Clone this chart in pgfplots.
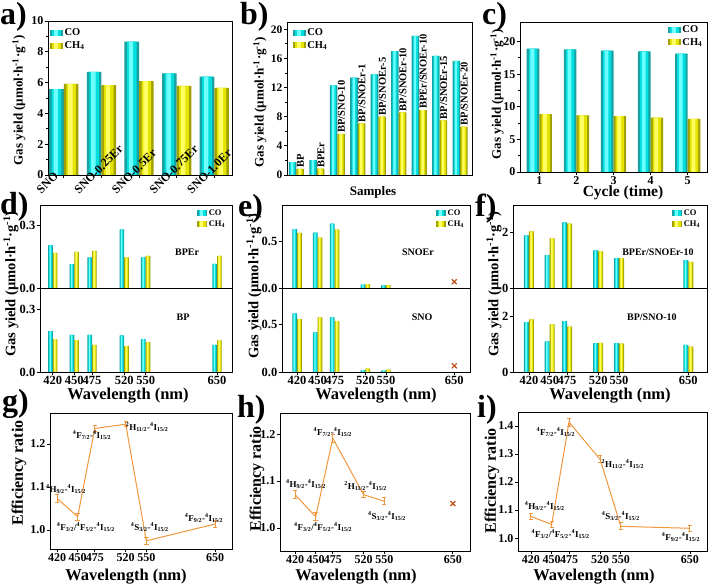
\documentclass[border=0pt]{standalone}
\usepackage{pgfplots}
\pgfplotsset{compat=1.18}
\usepackage{fontspec}
\setmainfont{Liberation Serif}
\definecolor{cyd}{RGB}{25,160,160}
\definecolor{cym}{RGB}{0,222,222}
\definecolor{cyb}{RGB}{110,255,255}
\definecolor{yed}{RGB}{160,160,0}
\definecolor{yem}{RGB}{228,228,0}
\definecolor{yeb}{RGB}{255,255,100}
\definecolor{orl}{RGB}{240,150,60}
\definecolor{xmk}{RGB}{190,80,20}
\newcommand{\fs}[1]{\fontsize{#1}{#1}\selectfont\bfseries}
\newcommand{\tr}[3]{\textsuperscript{#1}#2\textsubscript{#3}-\textsuperscript{4}I\textsubscript{15/2}}
\def\legw{13}
% #1 dark #2 mid #3 bright #4 width #5 shift #6 coordinates
\newcommand{\barset}[6]{%
  \addplot[ybar, bar width=#4, bar shift=#5, fill=#1, draw=none,
    legend image code/.code={\fill[#1] (0pt,-3pt) rectangle (\legw pt,3pt);
      \fill[#2] (0.17*\legw pt,-3pt) rectangle (0.83*\legw pt,3pt);
      \fill[#3] (0.3*\legw pt,-3pt) rectangle (0.6*\legw pt,3pt);}] coordinates {#6};
  \addplot[ybar, bar width={0.66*#4}, bar shift=#5, fill=#2, draw=none, forget plot] coordinates {#6};
  \addplot[ybar, bar width={0.3*#4}, bar shift={#5-0.05*#4}, fill=#3, draw=none, forget plot] coordinates {#6};
}
\pgfplotsset{
  base/.style={scale only axis, anchor=south west, clip=false,
    axis line style={line width=0.9pt}, every tick/.style={black, line width=0.8pt},
    tick align=outside, major tick length=3pt, minor tick length=2pt,
    xtick pos=bottom, ytick pos=left,
    xticklabel style={inner sep=1pt}, yticklabel style={inner sep=1.5pt},
    /pgf/number format/assume math mode=true},
  leg/.style={legend style={draw=none, fill=none, at={#1}, anchor=north west, inner sep=0pt, row sep=1pt,
     nodes={inner sep=1.5pt}}, legend cell align=left},
  effl/.style={orl, line width=1pt, mark=none, error bars/.cd, y dir=both, y explicit,
     error bar style={orl, line width=1pt}, error mark options={orl, rotate=90, mark size=2.2pt, line width=1pt}},
}
\begin{document}
\begin{tikzpicture}[x=1pt,y=1pt]
\path[use as bounding box] (0,0) rectangle (709,585);

% ================= a
\begin{axis}[base, at={(48pt,410pt)}, width=184pt, height=154pt,
  xmin=-0.42, xmax=4.47, ymin=0, ymax=10, ytick={0,2,...,10}, minor y tick num=1,
  xtick={0,...,4}, xticklabel={\mbox{}}, ticklabel style={font=\fs{12}},
  leg={(0.01,0.96)}, legend style={font=\fs{10.5}}]
\barset{cyd}{cym}{cyb}{0.39}{-0.195}{(0,5.58) (1,6.69) (2,8.66) (3,6.6) (4,6.39)}
\barset{yed}{yem}{yeb}{0.39}{0.195}{(0,5.92) (1,5.84) (2,6.1) (3,5.78) (4,5.65)}
\legend{CO, CH\textsubscript{4}}
\node[rotate=45, anchor=base west, font=\fs{12}] at (axis cs:-0.66,-1.43) {SNO};
\node[rotate=45, anchor=base west, font=\fs{12}] at (axis cs:0.34,-1.43) {SNO-0.25Er};
\node[rotate=45, anchor=base west, font=\fs{12}] at (axis cs:1.34,-1.43) {SNO-0.5Er};
\node[rotate=45, anchor=base west, font=\fs{12}] at (axis cs:2.34,-1.43) {SNO-0.75Er};
\node[rotate=45, anchor=base west, font=\fs{12}] at (axis cs:3.34,-1.43) {SNO-1.0Er};
\end{axis}
\node[rotate=90, font=\fs{13}] at (19,485) {Gas yield (µmol·h\textsuperscript{-1}·g\textsuperscript{-1})};
\node[anchor=base west, font=\fs{32}, inner sep=0pt] at (0,560) {a)};

% ================= b
\begin{axis}[base, at={(287pt,410pt)}, width=185pt, height=153pt,
  xmin=-0.46, xmax=8.58, ymin=0, ymax=21, ytick={0,4,...,20}, minor y tick num=1,
  xtick=\empty, ticklabel style={font=\fs{11.5}},
  leg={(0.03,0.967)}, legend style={font=\fs{10.5}}]
\barset{cyd}{cym}{cyb}{0.37}{-0.185}{(0,1.75) (1,2.05) (2,12.3) (3,13.35) (4,13.8) (5,17.0) (6,19.1) (7,16.35) (8,15.65)}
\barset{yed}{yem}{yeb}{0.37}{0.185}{(0,0.85) (1,0.87) (2,5.65) (3,7.1) (4,8.0) (5,8.6) (6,8.9) (7,7.5) (8,6.65)}
\legend{CO, CH\textsubscript{4}}
\node[rotate=90, anchor=west, font=\fs{10.5}, inner sep=1pt] at (axis cs:0.2,0.85) {BP};
\node[rotate=90, anchor=west, font=\fs{10.5}, inner sep=1pt] at (axis cs:1.2,0.87) {BPEr};
\node[rotate=90, anchor=west, font=\fs{10.5}, inner sep=1pt] at (axis cs:2.2,5.65) {BP/SNO-10};
\node[rotate=90, anchor=west, font=\fs{10.5}, inner sep=1pt] at (axis cs:3.2,7.1) {BP/SNOEr-1};
\node[rotate=90, anchor=west, font=\fs{10.5}, inner sep=1pt] at (axis cs:4.2,8.0) {BP/SNOEr-5};
\node[rotate=90, anchor=west, font=\fs{10.5}, inner sep=1pt] at (axis cs:5.2,8.6) {BP/SNOEr-10};
\node[rotate=90, anchor=west, font=\fs{10.5}, inner sep=1pt] at (axis cs:6.2,8.9) {BPEr/SNOEr-10};
\node[rotate=90, anchor=west, font=\fs{10.5}, inner sep=1pt] at (axis cs:7.2,7.5) {BP/SNOEr-15};
\node[rotate=90, anchor=west, font=\fs{10.5}, inner sep=1pt] at (axis cs:8.2,6.65) {BP/SNOEr-20};
\end{axis}
\node[rotate=90, font=\fs{13}] at (260,483) {Gas yield (µmol·h\textsuperscript{-1}·g\textsuperscript{-1})};
\node[font=\fs{13}] at (373,393) {Samples};
\node[anchor=base west, font=\fs{32}, inner sep=0pt] at (240,560) {b)};

% ================= c
\begin{axis}[base, at={(520pt,413pt)}, width=187pt, height=150pt,
  xmin=0.48, xmax=5.52, ymin=0, ymax=23, ytick={0,5,...,20}, minor y tick num=1,
  xtick={1,...,5}, ticklabel style={font=\fs{12}},
  leg={(0.79,0.987)}, legend style={font=\fs{10.5}}]
\barset{cyd}{cym}{cyb}{0.34}{-0.17}{(1,18.9) (2,18.8) (3,18.6) (4,18.5) (5,18.15)}
\barset{yed}{yem}{yeb}{0.34}{0.17}{(1,8.86) (2,8.7) (3,8.56) (4,8.35) (5,8.15)}
\legend{CO, CH\textsubscript{4}}
\end{axis}
\node[rotate=90, font=\fs{13}] at (497,491) {Gas yield (µmol·h\textsuperscript{-1}·g\textsuperscript{-1})};
\node[font=\fs{15.5}] at (623,392) {Cycle (time)};
\node[anchor=base west, font=\fs{32}, inner sep=0pt] at (482,560) {c)};

\def\legw{10}
% ================= d
\begin{axis}[base, at={(40pt,297pt)}, width=192pt, height=83pt,
  xmin=402, xmax=671, ymin=0, ymax=0.4, ytick={0,0.3}, yticklabels={0.0,0.3},
  xtick=\empty, ticklabel style={font=\fs{12.5}},
  leg={(0.818,0.964)}, legend style={font=\fs{8.5}}]
\barset{cyd}{cym}{cyb}{6.5}{-3.25}{(420,0.207) (450,0.115) (475,0.148) (520,0.282) (550,0.147) (650,0.116)}
\barset{yed}{yem}{yeb}{6.5}{3.25}{(420,0.169) (450,0.174) (475,0.179) (520,0.148) (550,0.155) (650,0.155)}
\legend{CO, CH\textsubscript{4}}
\node[font=\fs{10}] at (rel axis cs:0.766,0.434) {BPEr};
\end{axis}
\begin{axis}[base, at={(40pt,213pt)}, width=192pt, height=84pt,
  xmin=402, xmax=671, ymin=0, ymax=0.4, ytick={0,0.3}, yticklabels={0.0,0.3},
  xtick={420,450,475,520,550,650}, ticklabel style={font=\fs{12.5}}]
\barset{cyd}{cym}{cyb}{6.5}{-3.25}{(420,0.195) (450,0.177) (475,0.177) (520,0.174) (550,0.156) (650,0.129)}
\barset{yed}{yem}{yeb}{6.5}{3.25}{(420,0.156) (450,0.152) (475,0.129) (520,0.123) (550,0.142) (650,0.150)}
\node[font=\fs{10}] at (rel axis cs:0.745,0.655) {BP};
\end{axis}
\node[rotate=90, font=\fs{14.5}] at (11,301) {Gas yield (µmol·h\textsuperscript{-1}·g\textsuperscript{-1})};
\node[anchor=base, font=\fs{16.5}] at (128,185) {Wavelength (nm)};
\node[anchor=base west, font=\fs{32}, inner sep=0pt] at (0,370) {d)};

% ================= e
\begin{axis}[base, at={(282pt,297pt)}, width=188pt, height=83pt,
  xmin=398, xmax=673, ymin=0, ymax=0.89, ytick={0,0.5}, yticklabels={0.0,0.5},
  xtick=\empty, ticklabel style={font=\fs{12.5}},
  leg={(0.819,0.964)}, legend style={font=\fs{8.5}}]
\barset{cyd}{cym}{cyb}{6.9}{-3.45}{(420,0.63) (450,0.595) (475,0.69) (520,0.035) (550,0.028)}
\barset{yed}{yem}{yeb}{6.9}{3.45}{(420,0.59) (450,0.54) (475,0.627) (520,0.042) (550,0.032)}
\addplot[only marks, mark=x, mark size=3.5pt, xmk, line width=1.2pt, forget plot] coordinates {(650,0.067)};
\legend{CO, CH\textsubscript{4}}
\node[font=\fs{10}] at (rel axis cs:0.723,0.434) {SNOEr};
\end{axis}
\begin{axis}[base, at={(282pt,213pt)}, width=188pt, height=84pt,
  xmin=398, xmax=673, ymin=0, ymax=0.89, ytick={0,0.5}, yticklabels={0.0,0.5},
  xtick={420,450,475,520,550,650}, ticklabel style={font=\fs{12.5}}]
\barset{cyd}{cym}{cyb}{6.9}{-3.45}{(420,0.62) (450,0.42) (475,0.58) (520,0.02) (550,0.014)}
\barset{yed}{yem}{yeb}{6.9}{3.45}{(420,0.56) (450,0.58) (475,0.54) (520,0.036) (550,0.025)}
\addplot[only marks, mark=x, mark size=3.5pt, xmk, line width=1.2pt] coordinates {(650,0.065)};
\node[font=\fs{10}] at (rel axis cs:0.745,0.655) {SNO};
\end{axis}
\node[rotate=90, font=\fs{14.5}] at (254,299) {Gas yield (µmol·h\textsuperscript{-1}·g\textsuperscript{-1})};
\node[anchor=base, font=\fs{16.5}] at (376,185) {Wavelength (nm)};
\node[anchor=base west, font=\fs{32}, inner sep=0pt] at (238,368) {e)};

% ================= f
\begin{axis}[base, at={(513pt,297pt)}, width=194pt, height=83pt,
  xmin=397, xmax=677, ymin=0, ymax=3, ytick={0,2},
  xtick=\empty, ticklabel style={font=\fs{12.5}},
  leg={(0.82,0.964)}, legend style={font=\fs{8.5}}]
\barset{cyd}{cym}{cyb}{7.2}{-3.6}{(420,1.90) (450,1.19) (475,2.37) (520,1.36) (550,1.08) (650,1.01)}
\barset{yed}{yem}{yeb}{7.2}{3.6}{(420,2.05) (450,1.79) (475,2.33) (520,1.32) (550,1.07) (650,0.94)}
\legend{CO, CH\textsubscript{4}}
\node[font=\fs{10}] at (rel axis cs:0.747,0.434) {BPEr/SNOEr-10};
\end{axis}
\begin{axis}[base, at={(513pt,213pt)}, width=194pt, height=84pt,
  xmin=397, xmax=677, ymin=0, ymax=3, ytick={0,2},
  xtick={420,450,475,520,550,650}, ticklabel style={font=\fs{12.5}}]
\barset{cyd}{cym}{cyb}{7.2}{-3.6}{(420,1.78) (450,1.09) (475,1.82) (520,1.03) (550,1.03) (650,0.97)}
\barset{yed}{yem}{yeb}{7.2}{3.6}{(420,1.88) (450,1.70) (475,1.62) (520,1.04) (550,1.01) (650,0.91)}
\node[font=\fs{10}] at (rel axis cs:0.716,0.655) {BP/SNO-10};
\end{axis}
\node[rotate=90, font=\fs{14.5}] at (494,301) {Gas yield (µmol·h\textsuperscript{-1}·g\textsuperscript{-1})};
\node[anchor=base, font=\fs{16.5}] at (610,185) {Wavelength (nm)};
\node[anchor=base west, font=\fs{32}, inner sep=0pt] at (475,368) {f)};

% ================= g
\begin{axis}[base, at={(50pt,36pt)}, width=182pt, height=136pt,
  xmin=409.8, xmax=674.7, ymin=0.956, ymax=1.272,
  ytick={1.0,1.1,1.2}, yticklabels={1.0,1.1,1.2},
  xtick={420,450,475,520,550,650}, ticklabel style={font=\fs{12}}]
\addplot[effl] coordinates {(420,1.0736) +- (0,0.009) (450,1.031) +- (0,0.008) (475,1.236) +- (0,0.008) (520,1.246) +- (0,0.006) (550,0.975) +- (0,0.008) (650,1.014) +- (0,0.008)};
\node[font=\fs{9}] at (axis cs:433,1.095) {\tr{4}{H}{9/2}};
\node[font=\fs{9}] at (axis cs:462,1.007) {\textsuperscript{4}F\textsubscript{3/2}/\tr{4}{F}{5/2}};
\node[font=\fs{9}] at (axis cs:471,1.221) {\tr{4}{F}{7/2}};
\node[font=\fs{9}] at (axis cs:551,1.240) {\tr{2}{H}{11/2}};
\node[font=\fs{9}] at (axis cs:555,1.007) {\tr{4}{S}{3/2}};
\node[font=\fs{9}] at (axis cs:634,1.028) {\tr{4}{F}{9/2}};
\end{axis}
\node[rotate=90, font=\fs{16}] at (19,112) {Efficiency ratio};
\node[anchor=base, font=\fs{16.5}] at (126,4) {Wavelength (nm)};
\node[anchor=base west, font=\fs{32}, inner sep=0pt] at (2,173) {g)};

% ================= h
\begin{axis}[base, at={(280pt,34pt)}, width=190pt, height=138pt,
  xmin=398, xmax=675, ymin=0.951, ymax=1.245,
  ytick={1.0,1.1,1.2}, yticklabels={1.0,1.1,1.2},
  xtick={420,450,475,520,550,650}, ticklabel style={font=\fs{12}}]
\addplot[effl] coordinates {(420,1.071) +- (0,0.009) (450,1.024) +- (0,0.008) (475,1.191) +- (0,0.008) (520,1.071) +- (0,0.007) (550,1.057) +- (0,0.007)};
\addplot[only marks, mark=x, mark size=3.5pt, xmk, line width=1.2pt] coordinates {(650,1.052)};
\node[font=\fs{9}] at (axis cs:436,1.094) {\tr{4}{H}{9/2}};
\node[font=\fs{9}] at (axis cs:461,1.002) {\textsuperscript{4}F\textsubscript{3/2}/\tr{4}{F}{5/2}};
\node[font=\fs{9}] at (axis cs:475,1.204) {\tr{4}{F}{7/2}};
\node[font=\fs{9}] at (axis cs:523,1.089) {\tr{2}{H}{11/2}};
\node[font=\fs{9}] at (axis cs:554,1.026) {\tr{4}{S}{3/2}};
\end{axis}
\node[rotate=90, font=\fs{16}] at (257,106) {Efficiency ratio};
\node[anchor=base, font=\fs{16.5}] at (356,4) {Wavelength (nm)};
\node[anchor=base west, font=\fs{32}, inner sep=0pt] at (237,167) {h)};

% ================= i
\begin{axis}[base, at={(518pt,34pt)}, width=189pt, height=139pt,
  xmin=401.2, xmax=674.7, ymin=0.954, ymax=1.45,
  ytick={1.0,1.1,1.2,1.3,1.4}, yticklabels={1.0,1.1,1.2,1.3,1.4},
  xtick={420,450,475,520,550,650}, ticklabel style={font=\fs{12}}]
\addplot[effl] coordinates {(420,1.077) +- (0,0.012) (450,1.049) +- (0,0.01) (475,1.414) +- (0,0.014) (520,1.281) +- (0,0.012) (550,1.042) +- (0,0.012) (650,1.035) +- (0,0.01)};
\node[font=\fs{9}] at (axis cs:440,1.114) {\tr{4}{H}{9/2}};
\node[font=\fs{9}] at (axis cs:463,1.014) {\textsuperscript{4}F\textsubscript{3/2}/\tr{4}{F}{5/2}};
\node[font=\fs{9}] at (axis cs:456,1.379) {\tr{4}{F}{7/2}};
\node[font=\fs{9}] at (axis cs:553,1.264) {\tr{2}{H}{11/2}};
\node[font=\fs{9}] at (axis cs:550,1.079) {\tr{4}{S}{3/2}};
\node[font=\fs{9}] at (axis cs:637,1.004) {\tr{4}{F}{9/2}};
\end{axis}
\node[rotate=90, font=\fs{16}] at (492,104) {Efficiency ratio};
\node[anchor=base, font=\fs{16.5}] at (594,4) {Wavelength (nm)};
\node[anchor=base west, font=\fs{32}, inner sep=0pt] at (477,167) {i)};
\end{tikzpicture}
\end{document}
